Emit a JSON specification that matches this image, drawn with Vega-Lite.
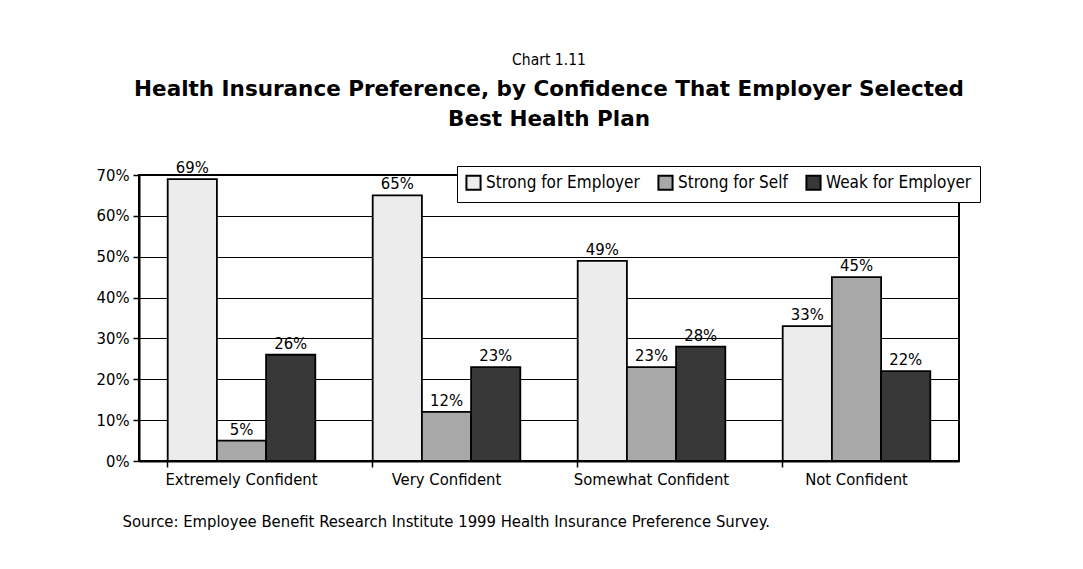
{
  "$schema": "https://vega.github.io/schema/vega-lite/v6.json",
  "width": 820,
  "height": 286,
  "padding": {"left": 96, "top": 53, "right": 10, "bottom": 10},
  "background": "white",
  "title": {
    "text": "Chart 1.11",
    "subtitle": ["Health Insurance Preference, by Confidence That Employer Selected", "Best Health Plan"],
    "anchor": "middle",
    "font": "DejaVu Sans Condensed, sans-serif",
    "fontSize": 15.5,
    "fontWeight": "normal",
    "color": "black",
    "subtitleFont": "DejaVu Sans, sans-serif",
    "subtitleFontSize": 21.5,
    "subtitleFontWeight": "bold",
    "subtitleColor": "black",
    "subtitlePadding": 10,
    "subtitleLineHeight": 30,
    "offset": 30
  },
  "data": {
    "values": [
      {"confidence": "Extremely Confident", "preference": "Strong for Employer", "value": 0.69},
      {"confidence": "Extremely Confident", "preference": "Strong for Self", "value": 0.05},
      {"confidence": "Extremely Confident", "preference": "Weak for Employer", "value": 0.26},
      {"confidence": "Very Confident", "preference": "Strong for Employer", "value": 0.65},
      {"confidence": "Very Confident", "preference": "Strong for Self", "value": 0.12},
      {"confidence": "Very Confident", "preference": "Weak for Employer", "value": 0.23},
      {"confidence": "Somewhat Confident", "preference": "Strong for Employer", "value": 0.49},
      {"confidence": "Somewhat Confident", "preference": "Strong for Self", "value": 0.23},
      {"confidence": "Somewhat Confident", "preference": "Weak for Employer", "value": 0.28},
      {"confidence": "Not Confident", "preference": "Strong for Employer", "value": 0.33},
      {"confidence": "Not Confident", "preference": "Strong for Self", "value": 0.45},
      {"confidence": "Not Confident", "preference": "Weak for Employer", "value": 0.22}
    ]
  },
  "encoding": {
    "x": {
      "field": "confidence",
      "type": "nominal",
      "sort": ["Extremely Confident", "Very Confident", "Somewhat Confident", "Not Confident"],
      "scale": {"paddingInner": 0.28, "paddingOuter": 0.14},
      "axis": {
        "title": "Source: Employee Benefit Research Institute 1999 Health Insurance Preference Survey.",
        "titleAnchor": "start",
        "titleAlign": "left",
        "titleX": -17,
        "titlePadding": 26,
        "titleFont": "DejaVu Sans Condensed, sans-serif",
        "titleFontSize": 16.5,
        "titleFontWeight": "normal",
        "titleColor": "black",
        "labelAngle": 0,
        "labelFont": "DejaVu Sans Condensed, sans-serif",
        "labelFontSize": 16.5,
        "labelColor": "black",
        "labelPadding": 4,
        "bandPosition": 0,
        "tickColor": "black",
        "tickWidth": 1.5,
        "tickSize": 6,
        "domainColor": "black",
        "domainWidth": 2
      }
    },
    "xOffset": {
      "field": "preference",
      "type": "nominal",
      "scale": {"paddingInner": 0, "paddingOuter": 0}
    },
    "y": {
      "field": "value",
      "type": "quantitative",
      "scale": {"domain": [0, 0.7]},
      "axis": {
        "title": null,
        "format": ".0%",
        "values": [0, 0.1, 0.2, 0.3, 0.4, 0.5, 0.6, 0.7],
        "labelFont": "DejaVu Sans Condensed, sans-serif",
        "labelFontSize": 16.5,
        "labelColor": "black",
        "labelPadding": 4,
        "tickColor": "black",
        "tickWidth": 1.5,
        "tickSize": 6,
        "domainColor": "black",
        "domainWidth": 2,
        "grid": true,
        "gridColor": "black",
        "gridWidth": 1.2
      }
    }
  },
  "layer": [
    {
      "mark": {"type": "bar", "stroke": "black", "strokeWidth": 1.8},
      "encoding": {
        "fill": {
          "field": "preference",
          "type": "nominal",
          "scale": {
            "domain": ["Strong for Employer", "Strong for Self", "Weak for Employer"],
            "range": ["#ececec", "#a8a8a8", "#383838"]
          },
          "legend": {
            "title": null,
            "orient": "none",
            "direction": "horizontal",
            "legendX": 318,
            "legendY": -9,
            "symbolType": "square",
            "symbolSize": 200,
            "symbolStrokeColor": "black",
            "symbolStrokeWidth": 2,
            "labelFont": "DejaVu Sans Condensed, sans-serif",
            "labelFontSize": 17,
            "labelColor": "black",
            "columnPadding": 14,
            "strokeColor": "black",
            "fillColor": "white",
            "padding": 8
          }
        }
      }
    },
    {
      "mark": {
        "type": "text",
        "dy": -11,
        "font": "DejaVu Sans Condensed, sans-serif",
        "fontSize": 16.5,
        "color": "black"
      },
      "encoding": {
        "text": {"field": "value", "type": "quantitative", "format": ".0%"}
      }
    }
  ],
  "config": {
    "view": {"stroke": "black", "strokeWidth": 2},
    "font": "DejaVu Sans Condensed, sans-serif"
  }
}
